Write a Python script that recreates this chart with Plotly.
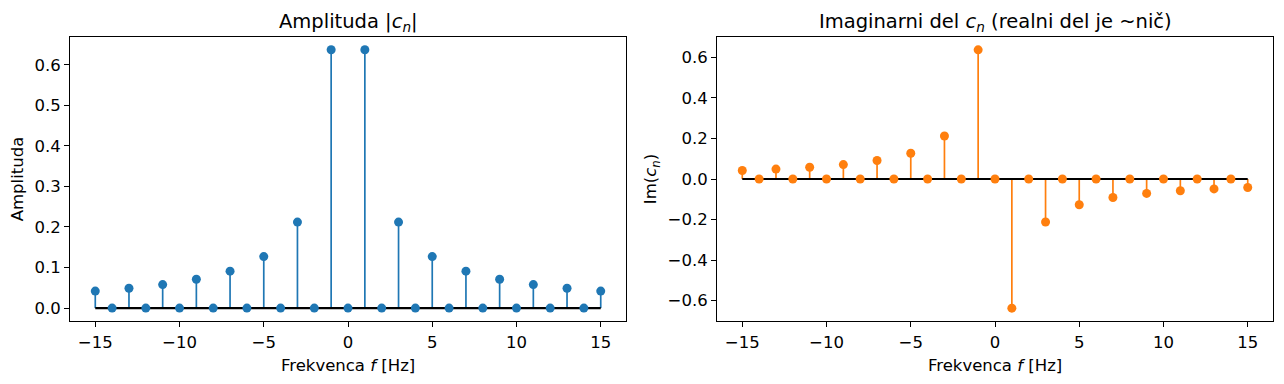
import plotly.graph_objects as go

# Data
n = list(range(-15, 16))
amplitude = [0.042, 0.0, 0.049, 0.0, 0.058, 0.0, 0.071, 0.0, 0.091, 0.0, 0.127, 0.0, 0.212, 0.0, 0.637, 0.0,
             0.637, 0.0, 0.212, 0.0, 0.127, 0.0, 0.091, 0.0, 0.071, 0.0, 0.058, 0.0, 0.049, 0.0, 0.042]
imag = [0.042, 0.0, 0.049, 0.0, 0.058, 0.0, 0.071, 0.0, 0.091, 0.0, 0.127, 0.0, 0.212, 0.0, 0.637, 0.0,
        -0.637, 0.0, -0.212, 0.0, -0.127, 0.0, -0.091, 0.0, -0.071, 0.0, -0.058, 0.0, -0.049, 0.0, -0.042]
x_ticks = [-15, -10, -5, 0, 5, 10, 15]
x_ticktext = ["\u221215", "\u221210", "\u22125", "0", "5", "10", "15"]
y1_ticks = [0, 0.1, 0.2, 0.3, 0.4, 0.5, 0.6]
y1_ticktext = ["0.0", "0.1", "0.2", "0.3", "0.4", "0.5", "0.6"]
y2_ticks = [-0.6, -0.4, -0.2, 0, 0.2, 0.4, 0.6]
y2_ticktext = ["\u22120.6", "\u22120.4", "\u22120.2", "0.0", "0.2", "0.4", "0.6"]

BLUE = "#1f77b4"
ORANGE = "#ff7f0e"
OFF = 8  # page body margin
W, H = 1284 - OFF, 384 - OFF
FONT = "DejaVu Sans"
TICK = 16.5
LAB = 16.5
TTL = 19.5


def px_x(px):
    return (px - OFF) / W


def px_y(py):
    return (384 - py) / H


def stems(xs, ys):
    sx, sy = [], []
    for x, y in zip(xs, ys):
        sx += [x, x, None]
        sy += [0, y, None]
    return sx, sy


fig = go.Figure()

for idx, (vals, col) in enumerate([(amplitude, BLUE), (imag, ORANGE)]):
    xa = "x" if idx == 0 else "x2"
    ya = "y" if idx == 0 else "y2"
    sx, sy = stems(n, vals)
    fig.add_trace(go.Scatter(x=sx, y=sy, mode="lines", line=dict(color=col, width=1.7),
                             xaxis=xa, yaxis=ya, showlegend=False, hoverinfo="skip"))
    fig.add_trace(go.Scatter(x=[n[0], n[-1]], y=[0, 0], mode="lines", line=dict(color="black", width=2.2),
                             xaxis=xa, yaxis=ya, showlegend=False, hoverinfo="skip"))
    fig.add_trace(go.Scatter(x=n, y=vals, mode="markers", marker=dict(color=col, size=9),
                             xaxis=xa, yaxis=ya, showlegend=False))

ydom = [px_y(321), px_y(37)]
axis_common = dict(showgrid=False, zeroline=False, showline=True, linecolor="black", linewidth=1.1,
                   mirror=True, ticks="outside", ticklen=5, tickwidth=1.1, tickcolor="black",
                   automargin=False,
                   tickfont=dict(family=FONT, size=TICK, color="black"))

fig.update_layout(
    width=W, height=H,
    margin=dict(l=0, r=0, t=0, b=0, autoexpand=False),
    plot_bgcolor="white", paper_bgcolor="white",
    font=dict(family=FONT, color="black", size=TICK),
    xaxis=dict(domain=[px_x(70), px_x(626)], range=[-16.5, 16.5], tickvals=x_ticks, ticktext=x_ticktext,
               ticklabelstandoff=1, anchor="y", **axis_common),
    yaxis=dict(domain=ydom, range=[-0.0318, 0.6684], tickvals=y1_ticks, ticktext=y1_ticktext,
               title=dict(text="Amplituda", font=dict(family=FONT, size=LAB), standoff=6),
               anchor="x", **axis_common),
    xaxis2=dict(domain=[px_x(717), px_x(1273)], range=[-16.5, 16.5], tickvals=x_ticks, ticktext=x_ticktext,
                ticklabelstandoff=1, anchor="y2", **axis_common),
    yaxis2=dict(domain=ydom, range=[-0.7003, 0.7003], tickvals=y2_ticks, ticktext=y2_ticktext,
                title=dict(text="Im(<i>c</i><sub><i>n</i></sub>)", font=dict(family=FONT, size=LAB), standoff=6),
                anchor="x2", **axis_common),
    annotations=[
        dict(text="Amplituda |<i>c</i><sub><i>n</i></sub>|", x=px_x((70 + 626) / 2), y=px_y(22),
             xref="paper", yref="paper", showarrow=False, font=dict(family=FONT, size=TTL),
             xanchor="center", yanchor="middle"),
        dict(text="Imaginarni del <i>c</i><sub><i>n</i></sub> (realni del je ~nič)", x=px_x((717 + 1273) / 2),
             y=px_y(22), xref="paper", yref="paper", showarrow=False,
             font=dict(family=FONT, size=TTL), xanchor="center", yanchor="middle"),
        dict(text="Frekvenca <i>f</i> [Hz]", x=px_x((70 + 626) / 2), y=px_y(365),
             xref="paper", yref="paper", showarrow=False, font=dict(family=FONT, size=LAB),
             xanchor="center", yanchor="middle"),
        dict(text="Frekvenca <i>f</i> [Hz]", x=px_x((717 + 1273) / 2), y=px_y(365),
             xref="paper", yref="paper", showarrow=False, font=dict(family=FONT, size=LAB),
             xanchor="center", yanchor="middle"),
    ],
)

fig.write_html("out.html")
